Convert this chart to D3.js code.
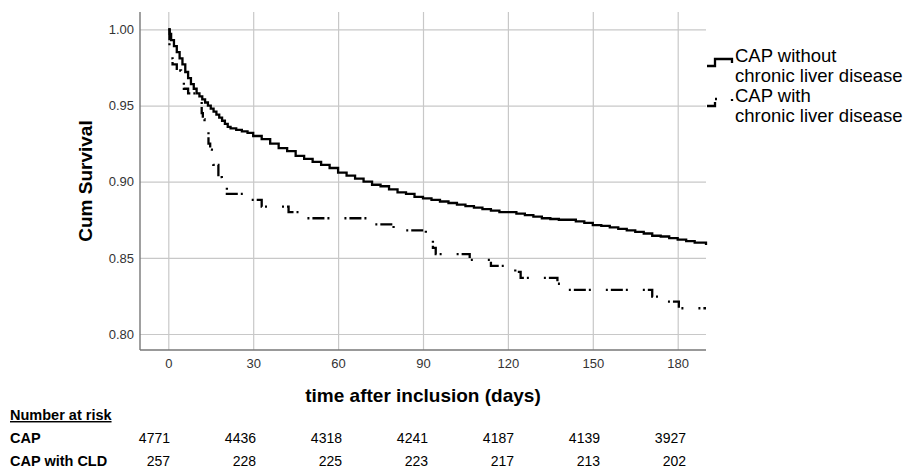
<!DOCTYPE html>
<html>
<head>
<meta charset="utf-8">
<script src="https://cdn.jsdelivr.net/npm/d3@7"></script>
<style>
  body { margin: 0; background: #fff; }
  svg { font-family: "Liberation Sans", Arial, sans-serif; }
</style>
</head>
<body>
<div id="chart"></div>
<script>
// x ticks (days) and y ticks (cum survival)
const dayTicks = [0, 30, 60, 90, 120, 150, 180];
const survTicks = [0.80, 0.85, 0.90, 0.95, 1.00];

// CAP without chronic liver disease
const capDays = [0, 0.5, 1, 2, 3, 4, 5, 6, 7, 8, 9, 10, 11, 12, 13, 14, 15, 16, 17, 18, 19, 20, 21, 22, 24, 26, 28, 30,
  33, 36, 39, 42, 45, 48, 51, 54, 57, 60, 63, 66, 69, 72, 75, 78, 81, 84, 87, 90, 93, 96, 99, 102, 105, 108, 111, 114,
  117, 120, 123, 126, 129, 132, 135, 138, 141, 144, 147, 150, 153, 156, 159, 162, 165, 168, 171, 174, 177, 180, 183, 186, 190];
const capSurv = [1.000, 0.997, 0.993, 0.989, 0.985, 0.981, 0.977, 0.972, 0.968, 0.964, 0.961, 0.958, 0.956, 0.954, 0.952,
  0.950, 0.948, 0.946, 0.944, 0.942, 0.940, 0.938, 0.936, 0.935, 0.934, 0.933, 0.932, 0.930,
  0.928, 0.925, 0.922, 0.920, 0.917, 0.915, 0.913, 0.911, 0.909, 0.906, 0.904, 0.902, 0.900, 0.898, 0.897, 0.895, 0.893,
  0.892, 0.890, 0.889, 0.888, 0.887, 0.886, 0.885, 0.884, 0.883, 0.882, 0.881, 0.880, 0.880, 0.879, 0.878, 0.877, 0.876,
  0.8755, 0.875, 0.875, 0.874, 0.873, 0.8715, 0.871, 0.870, 0.869, 0.868, 0.867, 0.866, 0.8645, 0.864, 0.863, 0.862,
  0.861, 0.860, 0.8585];

// CAP with chronic liver disease
const cldDays = [0, 0.4, 1.5, 3, 4.5, 5.5, 7, 11.2, 11.8, 12.2, 12.8, 13.6, 14.2, 14.8, 15.4, 15.9, 17.7, 18.9, 19.6, 20.7,
  28.3, 33, 42.5, 49, 71, 79.6, 91, 93.5, 94.5, 106.5, 114, 122.6, 124.5, 137.5, 138.5, 171, 174, 180.4, 190];
const cldSurv = [1.000, 0.981, 0.977, 0.973, 0.969, 0.961, 0.958, 0.9536, 0.945, 0.941, 0.937, 0.933, 0.925, 0.921, 0.917,
  0.911, 0.903, 0.899, 0.896, 0.892, 0.888, 0.8836, 0.880, 0.876, 0.872, 0.868, 0.864, 0.8565, 0.8525, 0.8487, 0.8447,
  0.8408, 0.8369, 0.833, 0.829, 0.8245, 0.8212, 0.8169, 0.8169];

// number at risk table
const riskLabels = ["CAP", "CAP with CLD"];
const riskCAP = [4771, 4436, 4318, 4241, 4187, 4139, 3927];
const riskCLD = [257, 228, 225, 223, 217, 213, 202];

const legendLabels = [["CAP without", "chronic liver disease"], ["CAP with", "chronic liver disease"]];

const W = 909, H = 468;
const plotL = 140, plotR = 706, plotT = 12, plotB = 350;

const svg = d3.select("#chart").append("svg")
  .attr("width", W)
  .attr("height", H);

const x = d3.scaleLinear().domain([-10, 190]).range([plotL, plotR]);
const y = d3.scaleLinear().domain([0.7895, 1.0114]).range([plotB, plotT]);

// y axis + horizontal grid
const yAxis = svg.append("g")
  .attr("transform", `translate(${plotL},0)`)
  .call(d3.axisLeft(y).tickValues(survTicks).tickFormat(d3.format(".2f"))
    .tickSize(-(plotR - plotL)).tickSizeOuter(0).tickPadding(6));
yAxis.selectAll(".tick line").attr("stroke", "#c8c8c8").attr("stroke-width", 1.2);
yAxis.selectAll(".tick text").attr("fill", "#333").style("font-size", "13px")
  .style("font-family", "'Liberation Sans', Arial, sans-serif");
yAxis.select(".domain").remove();

// x axis + vertical grid
const xAxis = svg.append("g")
  .attr("transform", `translate(0,${plotB})`)
  .call(d3.axisBottom(x).tickValues(dayTicks)
    .tickSize(-(plotB - plotT)).tickSizeOuter(0).tickPadding(9));
xAxis.selectAll(".tick line").attr("stroke", "#c8c8c8").attr("stroke-width", 1.2);
xAxis.selectAll(".tick text").attr("fill", "#333").style("font-size", "13px")
  .style("font-family", "'Liberation Sans', Arial, sans-serif");
xAxis.select(".domain").remove();

// axis lines
svg.append("line").attr("x1", plotL).attr("x2", plotL).attr("y1", plotT).attr("y2", plotB)
  .attr("stroke", "#777").attr("stroke-width", 1.4);
svg.append("line").attr("x1", plotL).attr("x2", plotR).attr("y1", plotB).attr("y2", plotB)
  .attr("stroke", "#777").attr("stroke-width", 1.4);

// survival curves
const line = d3.line().curve(d3.curveStepAfter).x(d => x(d[0])).y(d => y(d[1]));
const dashPattern = "12,3,2,15,2,3";

svg.append("path")
  .datum(d3.zip(capDays, capSurv))
  .attr("d", line)
  .attr("fill", "none")
  .attr("stroke", "#000")
  .attr("stroke-width", 2.3);

svg.append("path")
  .datum(d3.zip(cldDays, cldSurv))
  .attr("d", line)
  .attr("fill", "none")
  .attr("stroke", "#000")
  .attr("stroke-width", 2.3)
  .attr("stroke-dasharray", dashPattern);

// axis titles
svg.append("text")
  .attr("transform", "translate(92,181) rotate(-90)")
  .attr("text-anchor", "middle")
  .style("font-size", "19px").style("font-weight", "bold")
  .text("Cum Survival");

svg.append("text")
  .attr("x", x(90)).attr("y", 402)
  .attr("text-anchor", "middle")
  .style("font-size", "19px").style("font-weight", "bold")
  .text("time after inclusion (days)");

// legend
const legend = svg.append("g");
const legY = [61.5, 101.5];
legendLabels.forEach((lab, i) => {
  const by = legY[i];
  legend.append("path")
    .attr("d", `M707,${by + 4.5}H715V${by - 2.5}H732V${by + 1.5}`)
    .attr("fill", "none").attr("stroke", "#000").attr("stroke-width", 2.3)
    .attr("stroke-dasharray", i === 1 ? dashPattern : null);
  lab.forEach((t, j) => {
    legend.append("text")
      .attr("x", 735).attr("y", by + j * 20)
      .style("font-size", "18.5px")
      .text(t);
  });
});

// number at risk table
const tx = d3.scaleLinear().domain([0, 180]).range([170, 686]);
svg.append("text")
  .attr("x", 10).attr("y", 420)
  .style("font-size", "14.5px").style("font-weight", "bold")
  .style("text-decoration", "underline")
  .text("Number at risk");

[riskCAP, riskCLD].forEach((row, i) => {
  const ry = 443 + i * 23;
  svg.append("text")
    .attr("x", 10).attr("y", ry)
    .style("font-size", "14.5px").style("font-weight", "bold")
    .text(riskLabels[i]);
  svg.selectAll(null)
    .data(row)
    .enter()
    .append("text")
    .attr("x", (d, k) => tx(dayTicks[k]))
    .attr("y", ry)
    .attr("text-anchor", "end")
    .style("font-size", "14px")
    .text(d => d);
});
</script>
</body>
</html>
